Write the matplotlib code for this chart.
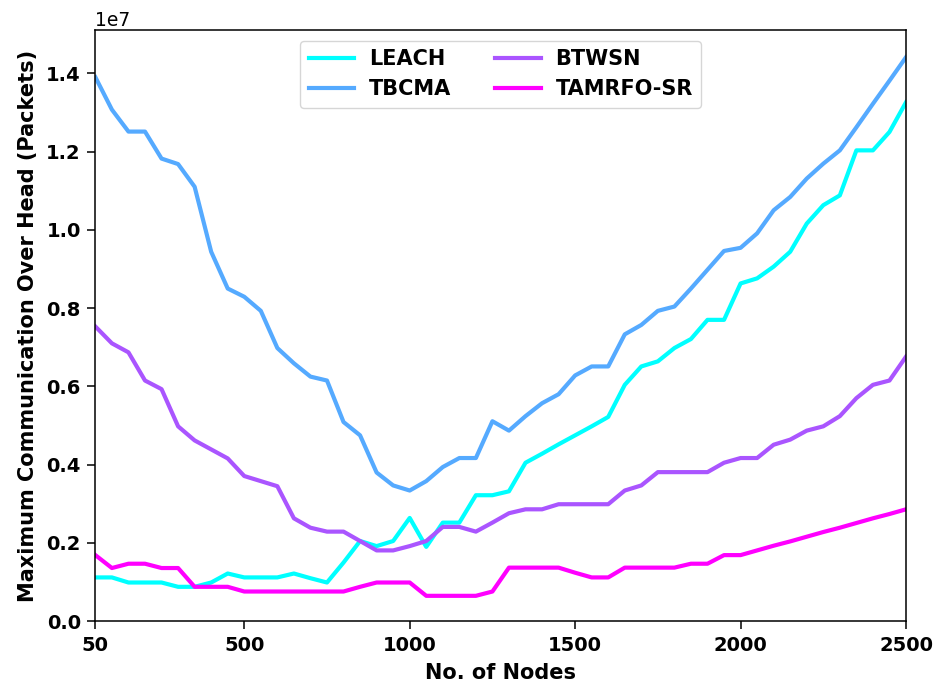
import matplotlib
matplotlib.use("Agg")
import matplotlib.pyplot as plt
import numpy as np

# x: number of nodes
NODES = [50, 100, 150, 200, 250, 300, 350, 400, 450, 500,
         550, 600, 650, 700, 750, 800, 850, 900, 950, 1000,
         1050, 1100, 1150, 1200, 1250, 1300, 1350, 1400, 1450, 1500,
         1550, 1600, 1650, 1700, 1750, 1800, 1850, 1900, 1950, 2000,
         2050, 2100, 2150, 2200, 2250, 2300, 2350, 2400, 2450, 2500]

# communication overhead, millions of packets
LEACH = [1.12, 1.12, 0.99, 0.99, 0.99, 0.88, 0.88, 0.99, 1.22, 1.12,
         1.12, 1.12, 1.22, 1.10, 0.99, 1.50, 2.05, 1.92, 2.05, 2.64,
         1.90, 2.52, 2.52, 3.22, 3.22, 3.32, 4.05, 4.28, 4.52, 4.75,
         4.98, 5.22, 6.04, 6.51, 6.64, 6.98, 7.21, 7.70, 7.70, 8.63,
         8.76, 9.06, 9.44, 10.16, 10.63, 10.88, 12.03, 12.03, 12.50, 13.26]
TBCMA = [13.90, 13.07, 12.51, 12.51, 11.82, 11.68, 11.10, 9.44, 8.50, 8.29,
         7.93, 6.98, 6.59, 6.25, 6.15, 5.09, 4.75, 3.80, 3.47, 3.34,
         3.58, 3.94, 4.17, 4.17, 5.11, 4.87, 5.24, 5.57, 5.80, 6.28,
         6.51, 6.51, 7.33, 7.57, 7.93, 8.04, 8.50, 8.98, 9.46, 9.54,
         9.91, 10.50, 10.84, 11.31, 11.69, 12.03, 12.62, 13.22, 13.81, 14.41]
BTWSN = [7.53, 7.10, 6.87, 6.15, 5.93, 4.98, 4.62, 4.39, 4.16, 3.71,
         3.58, 3.45, 2.63, 2.39, 2.29, 2.29, 2.05, 1.81, 1.81, 1.92,
         2.05, 2.41, 2.41, 2.29, 2.52, 2.76, 2.86, 2.86, 2.99, 2.99,
         2.99, 2.99, 3.34, 3.47, 3.81, 3.81, 3.81, 3.81, 4.05, 4.17,
         4.17, 4.51, 4.64, 4.87, 4.98, 5.24, 5.70, 6.04, 6.15, 6.76]
TAMRFO_SR = [1.69, 1.36, 1.47, 1.47, 1.36, 1.36, 0.88, 0.88, 0.88, 0.76,
             0.76, 0.76, 0.76, 0.76, 0.76, 0.76, 0.88, 0.99, 0.99, 0.99,
             0.65, 0.65, 0.65, 0.65, 0.76, 1.37, 1.37, 1.37, 1.37, 1.24,
             1.12, 1.12, 1.37, 1.37, 1.37, 1.37, 1.47, 1.47, 1.69, 1.69,
             1.81, 1.93, 2.04, 2.16, 2.28, 2.39, 2.51, 2.63, 2.74, 2.86]

SERIES = [("LEACH", LEACH), ("TBCMA", TBCMA), ("BTWSN", BTWSN),
          ("TAMRFO-SR", TAMRFO_SR)]
XTICKS = [50, 500, 1000, 1500, 2000, 2500]

# colours sampled from the 'cool' colormap
cmap = plt.get_cmap("cool")
COLORS = [cmap(i / 3) for i in range(4)]

fig = plt.figure(figsize=(9.35, 6.88), dpi=100)
ax = fig.add_axes([0.102, 0.097, 0.867, 0.859])

x = np.array(NODES)
for (name, vals), c in zip(SERIES, COLORS):
    ax.plot(x, np.array(vals) * 1e6, color=c, lw=3, label=name)

ax.set_xlim(50, 2500)
ax.set_ylim(bottom=0)
ax.set_xticks(XTICKS)
ax.set_yticks(np.arange(0, 1.41e7, 0.2e7))
ax.tick_params(length=5.5, width=1.1, pad=5)
for s in ax.spines.values():
    s.set_linewidth(1.1)
for lab in ax.get_xticklabels() + ax.get_yticklabels():
    lab.set_fontsize(14)
    lab.set_fontweight("bold")
ax.yaxis.get_offset_text().set_fontsize(13.5)

ax.set_xlabel("No. of Nodes", fontsize=15, fontweight="bold", labelpad=6)
ax.set_ylabel("Maximum Communication Over Head (Packets)", fontsize=15,
              fontweight="bold", labelpad=6)

ax.legend(loc="upper center", ncol=2, prop={"size": 15, "weight": "bold"},
          handlelength=2.2, handletextpad=0.7, columnspacing=2.1)

fig.savefig("out.png", dpi=100)
